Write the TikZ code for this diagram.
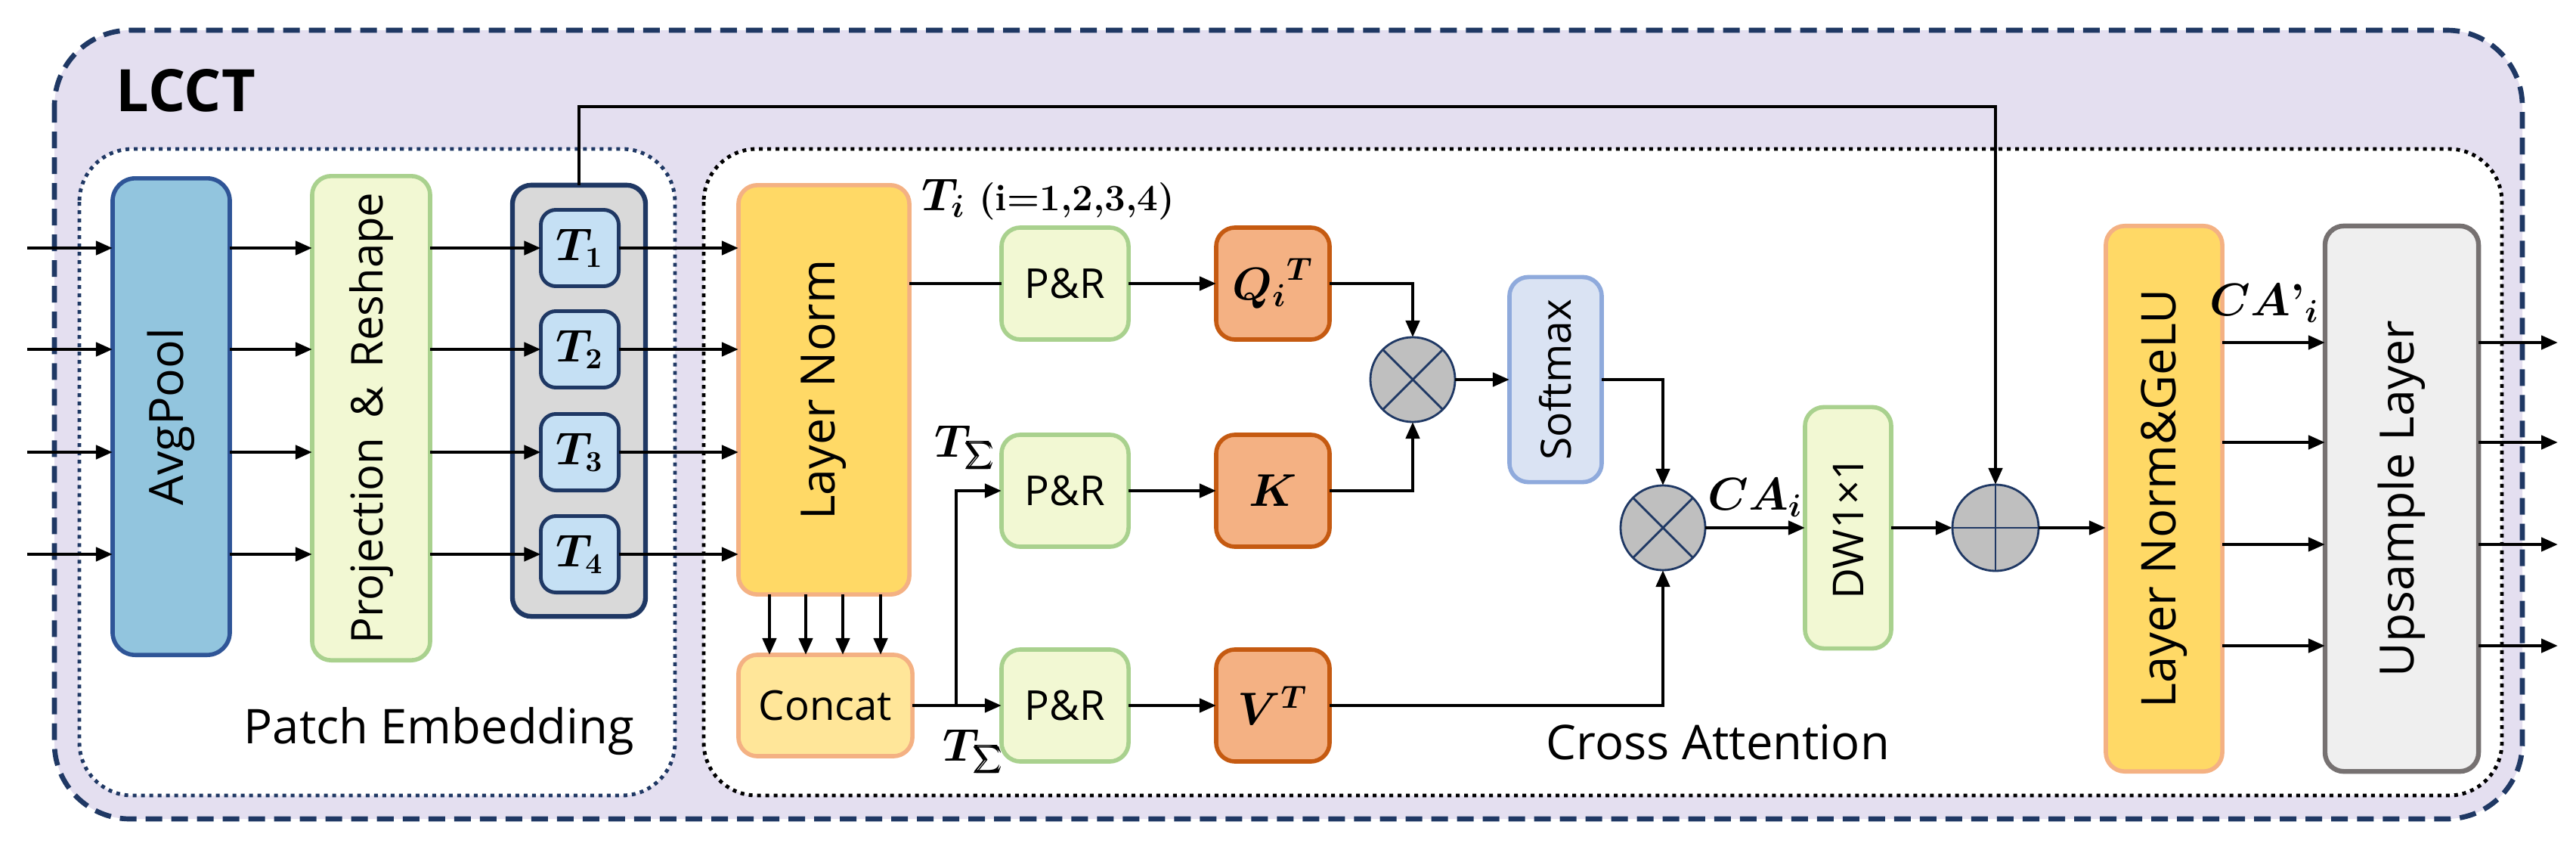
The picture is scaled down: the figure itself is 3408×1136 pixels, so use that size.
\documentclass[tikz,border=0pt]{standalone}
\usepackage{fontspec}
\setsansfont{Open Sans}
\usepackage{bm}
\usetikzlibrary{arrows.meta,calc}
\definecolor{navy}{HTML}{1F3864}
\definecolor{outerF}{HTML}{E4DFF0}
\definecolor{avgF}{HTML}{92C5DE}
\definecolor{avgB}{HTML}{2F5597}
\definecolor{grnF}{HTML}{F2F8D3}
\definecolor{grnB}{HTML}{A9D18E}
\definecolor{tgF}{HTML}{D9D9D9}
\definecolor{tF}{HTML}{C5E0F4}
\definecolor{lnF}{HTML}{FFD966}
\definecolor{lnB}{HTML}{F4B183}
\definecolor{ccF}{HTML}{FFE699}
\definecolor{qkF}{HTML}{F4B183}
\definecolor{qkB}{HTML}{C55A11}
\definecolor{smF}{HTML}{DAE3F3}
\definecolor{smB}{HTML}{8FAADC}
\definecolor{upF}{HTML}{EFEFEF}
\definecolor{upB}{HTML}{767171}
\definecolor{opF}{HTML}{BFBFBF}
\begin{document}
\begin{tikzpicture}[x=0.01cm,y=-0.01cm,
  box/.style={rectangle, rounded corners=0.25cm, line width=1.6pt, inner sep=0pt, outer sep=0pt,
    font=\sffamily\fontsize{17.8}{21}\selectfont},
  grn/.style={box, draw=grnB, fill=grnF},
  qkv/.style={box, draw=qkB, fill=qkF, minimum width=1.5cm, minimum height=1.48cm,
    font=\fontsize{18}{21}\selectfont},
  prbox/.style={grn, minimum width=1.68cm, minimum height=1.48cm, font=\sffamily\fontsize{15.5}{18}\selectfont},
  tbox/.style={box, draw=navy, fill=tF, rounded corners=0.2cm, line width=1.4pt,
    minimum width=1.03cm, minimum height=1.01cm, font=\fontsize{16}{19}\selectfont},
  opnode/.style={circle, draw=navy, fill=opF, line width=0.8pt, minimum size=1.12cm, inner sep=0pt, outer sep=0pt},
  opline/.style={draw=navy, line width=0.8pt},
  arr/.style={line width=1.3pt, -{Triangle[length=0.22cm,width=0.18cm]}},
  plain/.style={line width=1.3pt},
  mlbl/.style={inner sep=0pt, font=\fontsize{17}{20}\selectfont},
  slbl/.style={inner sep=0pt, font=\sffamily\fontsize{18}{22}\selectfont}
]
\useasboundingbox (0,0) rectangle (3408,1136);

% frames
\draw[navy, fill=outerF, line width=1.9pt, dash pattern=on 0.22cm off 0.12cm, rounded corners=1cm]
  (72,40) rectangle (3337,1083);
\draw[navy, fill=white, line width=1.4pt, dash pattern=on 0.05cm off 0.06cm, rounded corners=0.7cm]
  (105,197) rectangle (893,1052);
\draw[black, fill=white, line width=1.4pt, dash pattern=on 0.05cm off 0.06cm, rounded corners=0.7cm]
  (931,197) rectangle (3310,1052);

\node[font=\sffamily\bfseries\fontsize{22}{26}\selectfont, inner sep=0pt] (lcct) at (246,120) {LCCT};
\node[slbl] (pe) at (581,967) {Patch Embedding};
\node[slbl] (ca) at (2273,982) {Cross Attention};

% patch embedding
\node[box, draw=avgB, fill=avgF, rounded corners=0.3cm, minimum width=1.55cm, minimum height=6.3cm] (avg) at (226.5,551) {\rotatebox{90}{AvgPool}};
\node[grn, minimum width=1.56cm, minimum height=6.4cm, font=\sffamily\fontsize{16.5}{20}\selectfont] (proj) at (491,553) {\rotatebox{90}{Projection \,\&\, Reshape}};
\node[box, draw=navy, fill=tgF, line width=1.8pt, minimum width=1.76cm, minimum height=5.7cm] (tgrp) at (766,530) {};
\node[tbox] (T1) at (767,328) {$\bm{T_1}$};
\node[tbox] (T2) at (767,462) {$\bm{T_2}$};
\node[tbox] (T3) at (767,598) {$\bm{T_3}$};
\node[tbox] (T4) at (767,733) {$\bm{T_4}$};

% cross attention
\node[box, draw=lnB, fill=lnF, minimum width=2.26cm, minimum height=5.41cm] (ln) at (1090,515.5) {\rotatebox{90}{Layer Norm}};
\node[box, draw=lnB, fill=ccF, minimum width=2.3cm, minimum height=1.34cm, font=\sffamily\fontsize{15.5}{18}\selectfont] (concat) at (1092,933) {Concat};
\node[prbox] (pr1) at (1409,375) {P\&R};
\node[prbox] (pr2) at (1409,649) {P\&R};
\node[prbox] (pr3) at (1409,933) {P\&R};
\node[qkv] (q) at (1684,375) {${\bm{Q_i}}^{\bm{T}}$};
\node[qkv] (k) at (1684,649) {$\bm{K}$};
\node[qkv] (v) at (1684,933) {$\bm{V^T}$};
\node[opnode] (m1) at (1869,502) {};
\draw[opline] (m1.north east) -- (m1.south west) (m1.north west) -- (m1.south east);
\node[box, draw=smB, fill=smF, minimum width=1.22cm, minimum height=2.71cm, font=\sffamily\fontsize{15.7}{18}\selectfont] (sm) at (2058,502) {\rotatebox{90}{Softmax}};
\node[opnode] (m2) at (2200,698) {};
\draw[opline] (m2.north east) -- (m2.south west) (m2.north west) -- (m2.south east);
\node[grn, minimum width=1.14cm, minimum height=3.19cm, font=\sffamily\fontsize{16}{19}\selectfont] (dw) at (2445,698) {\rotatebox{90}{DW1×1}};
\node[opnode, minimum size=1.14cm] (plus) at (2640,698) {};
\draw[opline] (plus.north) -- (plus.south) (plus.west) -- (plus.east);
\node[box, draw=lnB, fill=lnF, minimum width=1.54cm, minimum height=7.21cm, font=\sffamily\fontsize{18}{21}\selectfont] (lng) at (2863,659.5) {\rotatebox{90}{Layer Norm\&GeLU}};
\node[box, draw=upB, fill=upF, line width=1.8pt, minimum width=2.03cm, minimum height=7.21cm] (up) at (3177.5,659.5) {\rotatebox{90}{Upsample Layer}};

% labels
\node[mlbl, anchor=west] (tilbl) at (1219,264) {$\bm{T_i}$ {\fontsize{14}{17}\selectfont\textbf{(i=1,2,3,4)}}};
\node[mlbl] (ts1) at (1277,592) {$\bm{T}_{\mbox{$\bm{\sum}$}}$};
\node[mlbl] (ts2) at (1288,994) {$\bm{T}_{\mbox{$\bm{\sum}$}}$};
\node[mlbl] (cai) at (2322,658) {$\bm{CA_i}$};
\node[mlbl] (capi) at (2996,401) {$\bm{CA}\textbf{’}_{\bm{i}}$};

% connectors: patch embedding rows
\foreach \r/\y in {1/328,2/462,3/598,4/733}{
  \coordinate (in\r) at (36,\y);
  \draw[arr] (in\r) -- (avg.west |- in\r);
  \draw[arr] (avg.east |- in\r) -- (proj.west |- in\r);
  \draw[arr] (proj.east |- in\r) -- (T\r.west);
  \draw[arr] (T\r.east) -- (ln.west |- T\r);
}
\foreach \d in {-0.72,-0.24,0.25,0.75}{
  \draw[arr] ([xshift=\d cm]ln.south) -- ([xshift=\d cm]ln.south |- concat.north);
}
\draw[plain] (ln.east |- pr1) -- (pr1.west);
\draw[arr] (pr1.east) -- (q.west);
\draw[arr] (pr2.east) -- (k.west);
\draw[arr] (pr3.east) -- (v.west);
\draw[arr] (concat.east) -- (pr3.west);
\coordinate (br) at (1265,933);
\draw[arr] (br) |- (pr2.west);
\draw[arr] (q.east) -| (m1.north);
\draw[arr] (k.east) -| (m1.south);
\draw[arr] (m1.east) -- (sm.west |- m1.east);
\draw[arr] (sm.east) -| (m2.north);
\draw[arr] (v.east) -| (m2.south);
\draw[arr] (m2.east) -- (dw.west |- m2.east);
\draw[arr] (dw.east) -- (plus.west);
\draw[arr] (plus.east) -- (lng.west |- plus.east);
\coordinate (sk) at (0,141);
\draw[arr] (tgrp.north) -- (tgrp.north |- sk) -| (plus.north);
\foreach \i/\y in {1/453,2/585,3/720,4/854}{
  \coordinate (out\i) at (3384,\y);
  \draw[arr] (lng.east |- out\i) -- (up.west |- out\i);
  \draw[arr] (up.east |- out\i) -- (out\i);
}
\end{tikzpicture}
\end{document}
